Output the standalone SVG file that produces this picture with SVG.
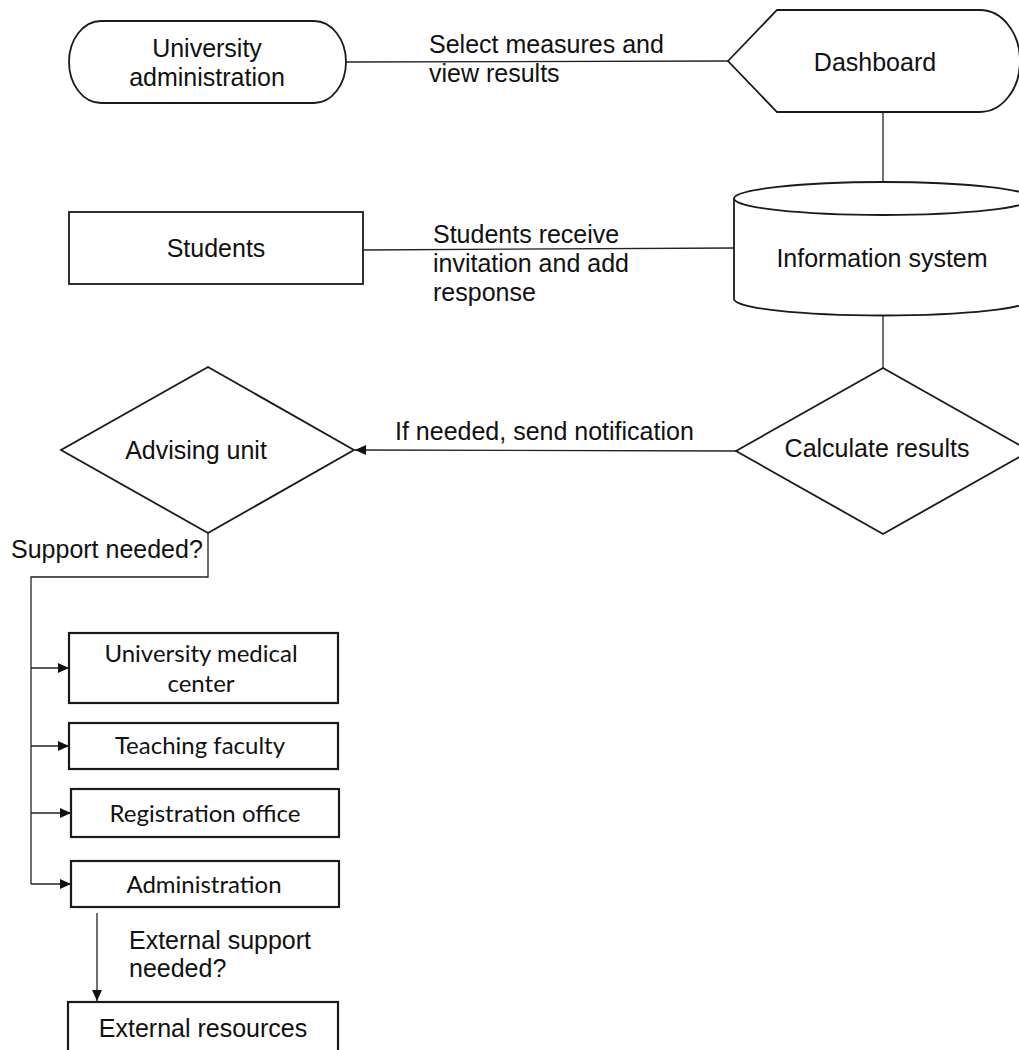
<svg xmlns="http://www.w3.org/2000/svg" width="1019" height="1050" viewBox="0 0 1019 1050">
<style>
.shape{fill:#fff;stroke:#1a1a1a;stroke-width:1.8}
.box{fill:#fff;stroke:#1a1a1a;stroke-width:2.2}
.conn{fill:none;stroke:#222;stroke-width:1.3}
.t{font-family:"Liberation Sans",Arial,sans-serif;font-size:25px;fill:#111}
.c{font-family:Lato,"Open Sans",sans-serif;font-size:24px;fill:#111}
.mid{text-anchor:middle}
</style>
<defs>
<marker id="arr" viewBox="0 0 11 10" refX="11" refY="5" markerWidth="11" markerHeight="10" markerUnits="userSpaceOnUse" orient="auto">
<path d="M0,0 L11,5 L0,10 Z" fill="#111"/>
</marker>
</defs>
<rect width="1019" height="1050" fill="#fff"/>
<g id="connectors">
<line class="conn" x1="346" y1="62" x2="728" y2="61"/>
<line class="conn" x1="883" y1="112" x2="883" y2="182"/>
<line class="conn" x1="363" y1="250" x2="734" y2="248"/>
<line class="conn" x1="883" y1="315" x2="883" y2="368"/>
<line class="conn" x1="736" y1="451" x2="355" y2="450" marker-end="url(#arr)"/>
<polyline class="conn" points="208,533 208,577 31,577 31,884"/>
<line class="conn" x1="31" y1="668" x2="69" y2="668" marker-end="url(#arr)"/>
<line class="conn" x1="31" y1="746" x2="69" y2="746" marker-end="url(#arr)"/>
<line class="conn" x1="31" y1="813" x2="71" y2="813" marker-end="url(#arr)"/>
<line class="conn" x1="31" y1="884" x2="71" y2="884" marker-end="url(#arr)"/>
<line class="conn" x1="97" y1="913" x2="97" y2="1001" marker-end="url(#arr)"/>
<text class="t" x="429" y="53">Select measures and</text>
<text class="t" x="429" y="82">view results</text>
<text class="t" x="433" y="243">Students receive</text>
<text class="t" x="433" y="272">invitation and add</text>
<text class="t" x="433" y="301">response</text>
<text class="t" x="395" y="440">If needed, send notification</text>
<text class="t" x="11" y="558">Support needed?</text>
<text class="t" x="129" y="949">External support</text>
<text class="t" x="129" y="977">needed?</text>
</g>
<g id="university-administration">
<rect class="shape" x="69" y="21" width="277" height="82" rx="32" ry="41"/>
<text class="t mid" x="207" y="57">University</text>
<text class="t mid" x="207" y="86">administration</text>
</g>
<g id="dashboard">
<path class="shape" d="M728,61 L777,10 L980,10 A40,51 0 0 1 980,112 L777,112 Z"/>
<text class="t mid" x="875" y="71">Dashboard</text>
</g>
<g id="students">
<rect class="shape" x="69" y="212" width="294" height="72"/>
<text class="t mid" x="216" y="257">Students</text>
</g>
<g id="information-system">
<path class="shape" d="M734,198.5 L734,299 A149,16.5 0 0 0 1032,299 L1032,198.5"/>
<ellipse class="shape" cx="883" cy="198.5" rx="149" ry="16.5"/>
<text class="t mid" x="882" y="267">Information system</text>
</g>
<g id="calculate-results">
<polygon class="shape" points="883,368 1030,451 883,534 736,451"/>
<text class="t mid" x="877" y="457">Calculate results</text>
</g>
<g id="advising-unit">
<polygon class="shape" points="208,367 354,450 208,533 61,450"/>
<text class="t mid" x="196" y="459">Advising unit</text>
</g>
<g id="university-medical-center">
<rect class="box" x="69" y="633" width="269" height="70"/>
<text class="c mid" x="201" y="662">University medical</text>
<text class="c mid" x="201" y="692">center</text>
</g>
<g id="teaching-faculty">
<rect class="box" x="69" y="723" width="269" height="46"/>
<text class="c mid" x="200" y="754">Teaching faculty</text>
</g>
<g id="registration-office">
<rect class="box" x="71" y="789" width="268" height="48"/>
<text class="c mid" x="205" y="822">Registration office</text>
</g>
<g id="administration">
<rect class="box" x="71" y="861" width="268" height="46"/>
<text class="c mid" x="204" y="893">Administration</text>
</g>
<g id="external-resources">
<rect class="box" x="68" y="1002" width="270" height="60"/>
<text class="t mid" x="203" y="1037">External resources</text>
</g>
</svg>
